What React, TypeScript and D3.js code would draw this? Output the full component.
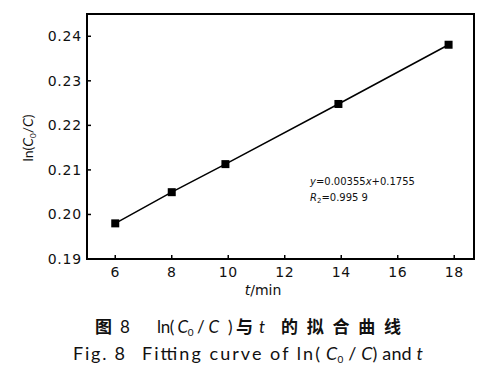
import React from "react";
import * as d3 from "d3";

const tValues = [6, 8, 9.9, 13.9, 17.8];
const lnValues = [0.198, 0.205, 0.2113, 0.2248, 0.2381];
const xTicks = [6, 8, 10, 12, 14, 16, 18];
const yTicks = [0.19, 0.2, 0.21, 0.22, 0.23, 0.24];

const W = 500, H = 380;
const L = 87, R = 474, T = 14, B = 259;

export default function App() {
  const x = d3.scaleLinear().domain([5, 18.7]).range([L, R]);
  const y = d3.scaleLinear().domain([0.19, 0.245]).range([B, T]);
  const pts = tValues.map((t, i) => [x(t), y(lnValues[i])] as [number, number]);
  const line = d3.line()(pts) || "";
  const font = "'DejaVu Sans', 'Noto Sans', sans-serif";
  const lat = "Lato, 'Open Sans', sans-serif";
  const cjk = "'Noto Sans CJK SC', sans-serif";
  const y1 = 333, y2 = 360;
  return (
    <svg width={W} height={H} style={{ position: "absolute", left: 0, top: 0, background: "#fff" }} fontFamily={font}>
      <rect x={0} y={0} width={W} height={H} fill="#fff" />
      <rect x={L} y={T} width={R - L} height={B - T} fill="none" stroke="#000" strokeWidth={2} />
      {xTicks.map((t) => (
        <g key={t}>
          <line x1={x(t)} x2={x(t)} y1={B} y2={B - 4} stroke="#000" strokeWidth={1.5} />
          <text x={x(t)} y={277} fontSize={14} textAnchor="middle" fill="#111" letterSpacing={0.5}>{t}</text>
        </g>
      ))}
      {yTicks.map((v) => (
        <g key={v}>
          <line x1={L} x2={L + 4} y1={y(v)} y2={y(v)} stroke="#000" strokeWidth={1.5} />
          <text x={82} y={y(v) + 5} fontSize={14} textAnchor="end" fill="#111" letterSpacing={0.8}>{v.toFixed(2)}</text>
        </g>
      ))}
      <path d={line} fill="none" stroke="#000" strokeWidth={1.5} />
      {pts.map((p, i) => (
        <rect key={i} x={p[0] - 4} y={p[1] - 4} width={8} height={8} fill="#000" />
      ))}
      <text x={310} y={185} fontSize={10} fill="#111">
        <tspan fontStyle="italic">y</tspan>=0.00355<tspan fontStyle="italic">x</tspan>+0.1755
      </text>
      <text x={310} y={201} fontSize={10} fill="#111">
        <tspan fontStyle="italic">R</tspan><tspan fontSize={7} dy={2}>2</tspan><tspan dy={-2}>=0.995 9</tspan>
      </text>
      <text transform={`translate(33,138) rotate(-90)`} fontSize={14} textAnchor="middle" fill="#111" fontFamily={lat}>
        ln(<tspan fontStyle="italic">C</tspan><tspan fontSize={8} dy={3}>0</tspan><tspan dy={-3}>/</tspan><tspan fontStyle="italic">C</tspan>)
      </text>
      <text x={263} y={295} fontSize={14} textAnchor="middle" fill="#111">
        <tspan fontStyle="italic">t</tspan>/min
      </text>

      <g fill="#111">
        <text x={95} y={y1} fontSize={17} fontWeight="bold" fontFamily={cjk}>图</text>
        <text x={120} y={y1} fontSize={17} fontFamily={lat}>8</text>
        <text x={157} y={y1} fontSize={17} fontFamily={lat} textLength={62} lengthAdjust="spacing">
          ln(<tspan fontStyle="italic"> C</tspan><tspan fontSize={10} dy={3}>0</tspan><tspan dy={-3}> / </tspan><tspan fontStyle="italic">C</tspan>
        </text>
        <text x={228} y={y1} fontSize={17} fontFamily={lat}>)</text>
        <text x={236} y={y1} fontSize={17} fontWeight="bold" fontFamily={cjk}>与</text>
        <text x={259} y={y1} fontSize={17} fontFamily={lat} fontStyle="italic">t</text>
        <text x={281} y={y1} fontSize={17} fontWeight="bold" fontFamily={cjk} textLength={120} lengthAdjust="spacing">的拟合曲线</text>

        <text x={73} y={y2} fontSize={18} fontFamily={lat} textLength={52} lengthAdjust="spacing">Fig. 8</text>
        <text x={142} y={y2} fontSize={18} fontFamily={lat} textLength={178} lengthAdjust="spacing">Fitting curve of ln(</text>
        <text x={326} y={y2} fontSize={18} fontFamily={lat} textLength={97} lengthAdjust="spacing">
          <tspan fontStyle="italic">C</tspan><tspan fontSize={10} dy={3}>0</tspan><tspan dy={-3}> / </tspan><tspan fontStyle="italic">C</tspan>)  and <tspan fontStyle="italic">t</tspan>
        </text>
      </g>
    </svg>
  );
}
